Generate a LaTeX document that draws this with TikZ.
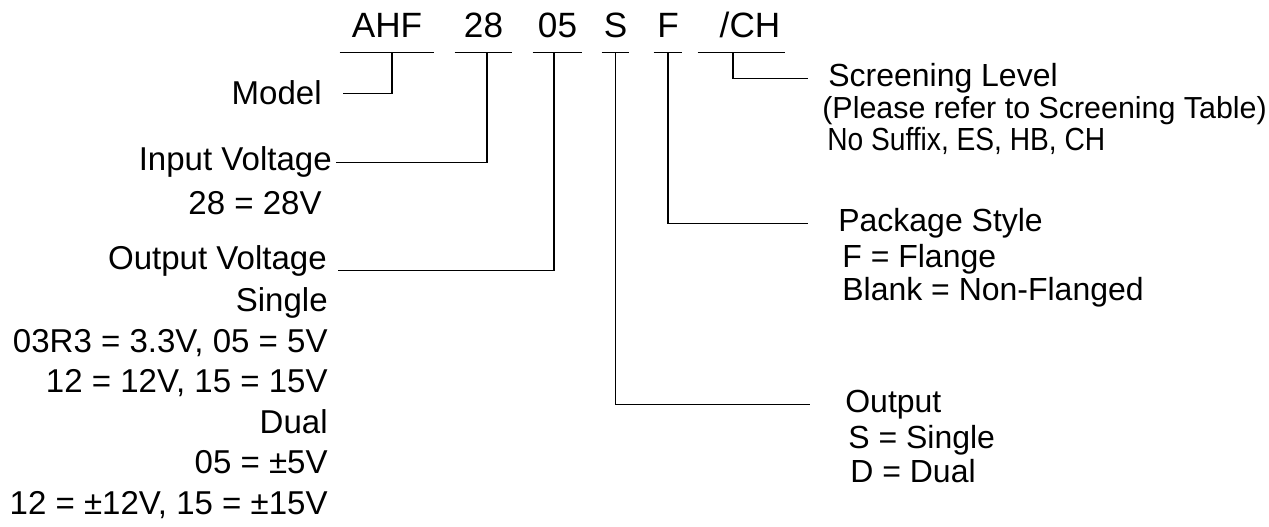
\documentclass[tikz,border=0pt]{standalone}
\usepackage{graphicx}
\usepackage{fontspec}
\setmainfont{Liberation Sans}
\begin{document}
\begin{tikzpicture}[rule line/.style={line width=0.6pt},
    code part/.style={font=\fontsize{20}{24}\selectfont,anchor=base,inner xsep=0pt,inner ysep=0.28cm,text depth=0pt,minimum width=#1},
    left label/.style={font=\fontsize{18.8}{22}\selectfont,anchor=base east,inner sep=0pt},
    right label/.style={font=\fontsize{18.2}{22}\selectfont,anchor=base west,inner sep=0pt}]
  \useasboundingbox (0,0) rectangle (25.38,10.54);
  % part number
  \node[code part=1.88cm] (ahf) at (7.74,9.78) {AHF};
  \node[code part=1.14cm] (vin) at (9.67,9.78) {28};
  \node[code part=0.98cm] (vout) at (11.15,9.78) {05};
  \node[code part=0.54cm] (otype) at (12.31,9.78) {S};
  \node[code part=0.56cm] (pkg) at (13.36,9.78) {F};
  \node[code part=1.74cm] (scrn) at (14.83,9.78) {\hspace*{0.34cm}/CH};
  \foreach \p in {ahf,vin,vout,otype,pkg,scrn}
    \draw[rule line] (\p.south west) -- (\p.south east); %underlines
  % left side
  \node[left label] (model) at (6.44,8.44) {Model};
  \node[left label] (input) at (6.64,7.12) {Input Voltage};
  \node[left label] (inval) at (6.44,6.24) {28 = 28V};
  \node[left label] (outvolt) at (6.54,5.14) {Output Voltage};
  \node[left label] (single) at (6.56,4.30) {Single};
  \node[left label] (sing1) at (6.56,3.49) {03R3 = 3.3V, 05 = 5V};
  \node[left label] (sing2) at (6.56,2.68) {12 = 12V, 15 = 15V};
  \node[left label] (dual) at (6.56,1.86) {Dual};
  \node[left label] (dual1) at (6.56,1.06) {05 = ±5V};
  \node[left label] (dual2) at (6.56,0.24) {12 = ±12V, 15 = ±15V};
  % right side
  \node[right label] (screening) at (16.56,8.81) {Screening Level};
  \node[right label,font=\fontsize{17.3}{21}\selectfont] (scrref) at (16.44,8.16) {(Please refer to Screening Table)};
  \node[right label] (scrval) at (16.54,7.52) {\scalebox{0.88}[1]{No Suffix, ES, HB, CH}};
  \node[right label] (package) at (16.76,5.91) {Package Style};
  \node[right label] (pkg1) at (16.84,5.18) {F = Flange};
  \node[right label] (pkg2) at (16.84,4.52) {Blank = Non-Flanged};
  \node[right label] (output) at (16.90,2.29) {Output};
  \node[right label] (out1) at (16.96,1.56) {S = Single};
  \node[right label] (out2) at (17.00,0.88) {D = Dual};
  % connectors
  \draw[rule line] ([xshift=0.10cm]ahf.south) |- ([xshift=0.42cm]model.east); %model
  \draw[rule line] ([xshift=0.07cm]vin.south) |- ([xshift=0.08cm]input.east); %input
  \draw[rule line] ([xshift=-0.07cm]vout.south) |- ([xshift=0.22cm,yshift=-0.19cm]outvolt.east); %output voltage
  \draw[rule line] (otype.south) |- ([xshift=-0.70cm]output.west); %output
  \draw[rule line] (pkg.south) |- ([xshift=-0.60cm]package.west); %package
  \draw[rule line] ([xshift=-0.17cm]scrn.south) |- ([xshift=-0.40cm]screening.west); %screening
\end{tikzpicture}
\end{document}
